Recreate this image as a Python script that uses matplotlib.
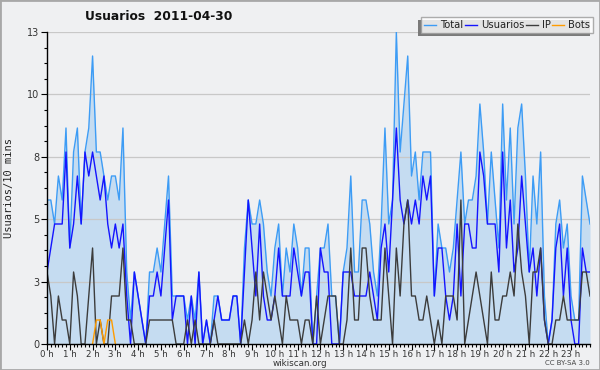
import numpy as np
import matplotlib
matplotlib.use("Agg")
import matplotlib.pyplot as plt
from matplotlib.ticker import FixedLocator, MultipleLocator
from matplotlib.patches import Rectangle
from matplotlib.lines import Line2D

title = "Usuarios  2011-04-30"
ylabel = "Usuarios/10 mins"
series_names = ["Total", "Usuarios", "IP", "Bots"]
hour_labels = [f"{h} h" for h in range(24)]

total = [6,6,5,7,6,9,4,8,9,5, 8,9,12,8,8,7,6,7,7,6, 9,3,1,3,2,1,0,3,3,4,
         3,5,7,2,2,2,2,1,2,1, 3,0,1,0,2,2,1,1,1,2, 2,0,4,6,5,5,6,5,3,2,
         4,5,2,4,3,5,4,2,4,4, 0,2,4,4,5,2,2,0,3,4, 7,3,3,6,6,5,3,2,5,9,
         5,6,13,8,10,12,7,8,6,8, 8,8,2,5,4,4,3,4,6,8, 5,6,6,7,10,8,5,8,6,4,
         10,6,9,5,9,10,7,3,7,5, 8,2,0,1,5,6,4,5,2,1, 1,7,6,5]
usuarios = [3,4,5,5,5,8,4,5,7,5, 8,7,8,7,6,7,5,4,5,4, 5,2,0,3,2,1,0,2,2,3,
            2,4,6,1,2,2,2,0,2,0, 3,0,1,0,1,2,1,1,1,2, 2,0,3,6,4,2,5,2,1,1,
            2,4,2,2,2,4,3,2,3,3, 0,0,4,3,3,0,0,0,3,3, 3,2,2,2,2,3,2,1,4,5,
            3,6,9,6,5,6,5,6,5,7, 6,7,2,4,4,2,1,2,5,2, 5,5,4,4,8,7,5,5,5,3,
            8,4,6,3,4,7,5,3,4,2, 4,1,0,1,4,5,2,4,1,0, 0,4,3,3]
ip = [3,2,0,2,1,1,0,3,2,0, 0,2,4,0,1,0,0,2,2,2, 4,1,1,0,0,0,0,1,1,1,
      1,1,1,1,0,0,0,1,0,1, 0,0,0,0,1,0,0,0,0,0, 0,0,1,0,1,3,1,3,2,1,
      2,1,0,2,1,1,1,0,1,1, 0,2,0,1,2,2,2,0,0,1, 4,1,1,4,4,2,1,1,1,4,
      2,0,4,2,5,6,2,2,1,1, 2,1,0,1,0,2,2,2,1,6, 0,1,2,3,2,1,0,3,1,1,
      2,2,3,2,5,3,2,0,3,3, 4,1,0,0,1,1,2,1,1,1, 1,3,3,2]
bots = [0]*144
for k in (13, 14, 16, 17):
    bots[k] = 1

n = len(total)
x = np.arange(n) / 6.0

BG = "#eff0f2"
fig = plt.figure(figsize=(6.0, 3.7), dpi=100, facecolor=BG)
ax = fig.add_axes([47/600, 26/370, 543/600, 312/370])
ax.set_facecolor(BG)

c_total = "#3d9cf5"
c_user = "#1414ff"
c_ip = "#3c3c3c"
c_bots = "#ff9c00"

ax.fill_between(x, 0, total, color="#c5dcf1", lw=0, zorder=1)
ax.plot(x, total, color=c_total, lw=1.0, zorder=3)
ax.plot(x, usuarios, color=c_user, lw=1.0, zorder=4)
ax.plot(x, ip, color=c_ip, lw=1.0, zorder=5)
b = np.array(bots, dtype=float)
mask = np.zeros(n, dtype=bool)
for i in range(n):
    lo, hi = max(0, i-1), min(n, i+2)
    mask[i] = b[lo:hi].max() > 0
b_plot = np.where(mask, b, np.nan)
ax.plot(x, b_plot, color=c_bots, lw=1.0, zorder=6)

ax.set_xlim(0, (n-1)/6.0)
ax.set_ylim(0, 13)

yt = [0, 2.6, 5.2, 7.8, 10.4, 13]
ax.yaxis.set_major_locator(FixedLocator(yt))
ax.set_yticklabels([f"{round(v):d}" for v in yt])
ax.yaxis.set_minor_locator(MultipleLocator(0.65))
ax.xaxis.set_major_locator(FixedLocator(range(24)))
ax.set_xticklabels(hour_labels)
ax.xaxis.set_minor_locator(MultipleLocator(1/6))

ax.grid(axis="y", which="major", color="#c8c8c8", lw=0.9, zorder=2)
ax.set_axisbelow(False)
for l in ax.get_ygridlines():
    l.set_zorder(2)

for s in ("top", "right"):
    ax.spines[s].set_visible(False)
for s in ("left", "bottom"):
    ax.spines[s].set_color("black")
    ax.spines[s].set_linewidth(1.0)
    ax.spines[s].set_zorder(7)

ax.tick_params(axis="both", which="major", direction="out", length=4, width=0.8,
               color="black", labelsize=7, labelcolor="#333333", pad=1.5)
ax.tick_params(axis="both", which="minor", direction="out", length=2.5, width=0.8, color="black")
ax.tick_params(axis="x", which="major", labelsize=6.2, pad=0.3)

fig.text(9/600, 1 - 188/370, ylabel, rotation=90, ha="center", va="center",
         family="DejaVu Sans Mono", fontsize=7.5, color="#222222")
fig.text(85/600, 1 - 17/370, title, ha="left", va="center",
         fontsize=8.8, fontweight="bold", color="#111111")
fig.text(300/600, 1 - 364/370, "wikiscan.org", ha="center", va="center",
         fontsize=6.3, color="#333333")
fig.text(590/600, 1 - 363/370, "CC BY-SA 3.0", ha="right", va="center",
         fontsize=5, color="#444444")

handles = [Line2D([], [], color=c, lw=1.0) for c in (c_total, c_user, c_ip, c_bots)]
leg = ax.legend(handles, series_names, loc="upper right", ncol=4,
                bbox_to_anchor=(593/600, 1 - 17/370), bbox_transform=fig.transFigure,
                fontsize=7.2, handlelength=1.2, handletextpad=0.4, columnspacing=0.15,
                borderpad=0.3, borderaxespad=0, frameon=True, fancybox=False,
                shadow=False)
leg.get_frame().set_facecolor("white")
leg.get_frame().set_edgecolor("#9a9a9a")
leg.get_frame().set_linewidth(1.0)
leg.set_zorder(10)
for t in leg.get_texts():
    t.set_color("#222222")

fig.canvas.draw()
bb = leg.get_window_extent().transformed(fig.transFigure.inverted())
dx, dy = 3/600, 3/370
ax.add_patch(Rectangle((bb.x0 - dx, bb.y0 - dy), bb.width, bb.height,
                       transform=fig.transFigure, facecolor="#7a7a7a",
                       edgecolor="none", zorder=9, clip_on=False))

fig.patches.append(Rectangle((0, 0), 1, 1, transform=fig.transFigure, fill=False,
                             edgecolor="#a8a8a8", lw=2.0))

fig.savefig("out.png", dpi=100, facecolor=BG)
